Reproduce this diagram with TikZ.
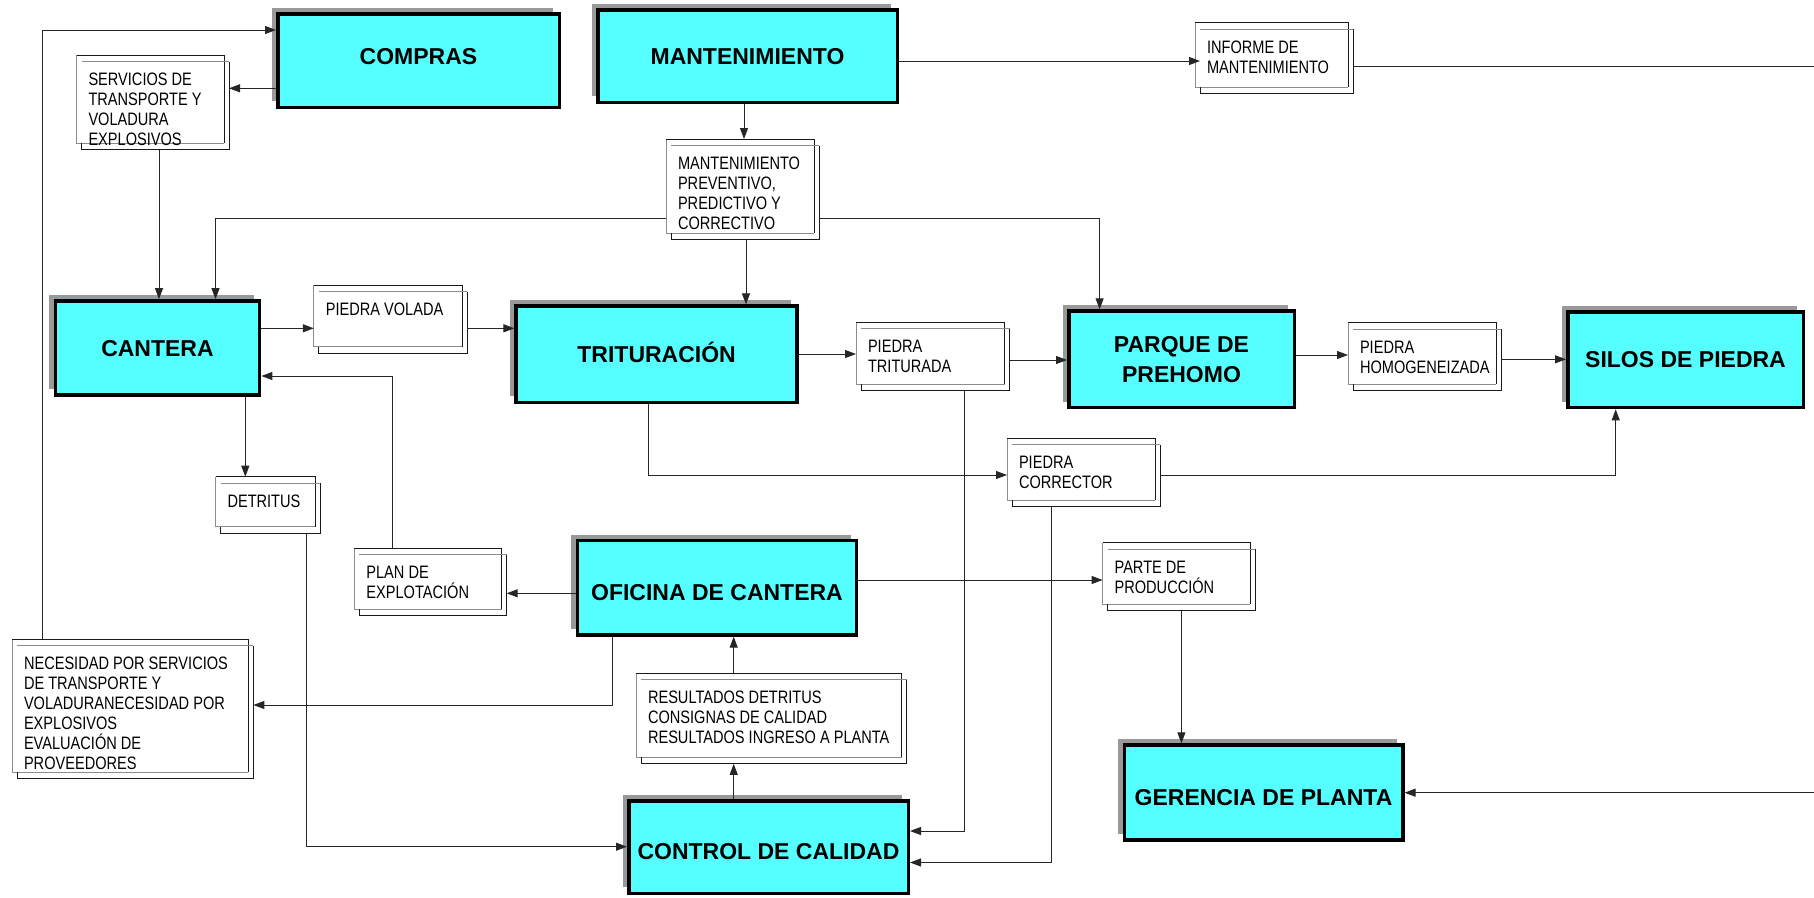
\documentclass[tikz,border=0pt]{standalone}
\usepackage{fontspec}
\setmainfont{Liberation Sans}
\newfontfamily\narrowfont[FakeStretch=0.81]{Liberation Sans}
\usetikzlibrary{arrows.meta,shadows}

\definecolor{boxcyan}{RGB}{85,255,255}
\definecolor{shadowgray}{RGB}{153,153,153}

\tikzset{
  bigbox/.style={rectangle, draw=black, line width=3.5pt, fill=boxcyan,
    inner sep=0pt, outer sep=1.75pt, align=center,
    drop shadow={shadow xshift=-6pt, shadow yshift=6pt, opacity=1, fill=shadowgray},
    font=\fontsize{23}{29.7}\selectfont\bfseries},
  onetext/.style={text height=16.5pt, text depth=0pt},
  lowtext/.style={text height=25.5pt, text depth=0pt},
  boxback/.style={rectangle, draw=none, inner sep=0pt, outer sep=0pt},
  boxtext/.style={anchor=north west, inner sep=0pt, outer sep=0pt, align=left,
    font=\narrowfont\fontsize{18}{20}\selectfont},
  edgelight/.style={line width=0.8pt, black!45},
  edgedark/.style={line width=1pt, black!90},
  conn/.style={line width=1pt, black!85},
  arr/.style={conn, -{Triangle[length=11pt,width=8pt]}}
}

% data box: back frame, offset front frame and top-aligned text
% #1 name, #2 left, #3 top, #4 width, #5 height, #6 text
\newcommand\mkbox[6]{%
  \node[boxback, minimum width=#4pt, minimum height=#5pt, anchor=north west] (#1) at (#2,#3) {};
  \node[boxback, minimum width=#4pt, minimum height=#5pt, anchor=north west] (#1f) at (#2+5,#3+6.5) {};
  \draw[edgelight] (#1.north west) |- (#1.south east);
  \draw[edgedark] (#1.north west) -| (#1.south east);
  \draw[edgelight] (#1f.north west) -- (#1f.north east);
  \draw[edgedark] (#1f.north east) |- (#1f.south west) -- (#1f.south west |- #1.south);
  \node[boxtext] (#1t) at (#2+12,#3+18) {#6};
}

\begin{document}
\begin{tikzpicture}[x=1pt,y=-1pt]
\path[use as bounding box, fill=white] (0,0) rectangle (1814,897);

% process blocks
\node[bigbox, onetext, text depth=8pt, minimum width=281.5pt, minimum height=93.5pt] (compras) at (418.5,60.5) {COMPRAS};
\node[bigbox, onetext, minimum width=299.5pt, minimum height=92.5pt] (mant) at (747.5,56) {MANTENIMIENTO};
\node[bigbox, onetext, minimum width=204.3pt, minimum height=94.2pt] (cantera) at (157.5,348) {CANTERA};
\node[bigbox, onetext, minimum width=280.8pt, minimum height=96.2pt] (trit) at (656.6,354.2) {TRITURACIÓN};
\node[bigbox, minimum width=225.5pt, minimum height=96.5pt] (parque) at (1181.5,359.3) {PARQUE DE\\PREHOMO};
\node[bigbox, onetext, minimum width=235.5pt, minimum height=95.8pt] (silos) at (1685.5,359.7) {SILOS DE PIEDRA};
\node[bigbox, lowtext, minimum width=279.4pt, minimum height=94.2pt] (ofi) at (717,587.8) {OFICINA DE CANTERA};
\node[bigbox, lowtext, minimum width=279.5pt, minimum height=92.2pt] (control) at (768.5,847.2) {CONTROL DE CALIDAD};
\node[bigbox, lowtext, minimum width=278.5pt, minimum height=94.9pt] (ger) at (1263.5,792.5) {GERENCIA DE PLANTA};

% flows between blocks
\mkbox{serv}{76.5}{55}{147.5}{88}{SERVICIOS DE\\TRANSPORTE Y\\VOLADURA\\EXPLOSIVOS}
\mkbox{info}{1195}{22.7}{153}{64.6}{INFORME DE\\MANTENIMIENTO}
\mkbox{mprev}{666}{139}{148}{94}{MANTENIMIENTO\\PREVENTIVO,\\PREDICTIVO Y\\CORRECTIVO}
\mkbox{volada}{313.8}{285.3}{148.2}{61.4}{PIEDRA VOLADA}
\mkbox{tritu}{856}{322.3}{148.5}{62}{PIEDRA\\TRITURADA}
\mkbox{homog}{1348}{322.7}{148.4}{61.3}{PIEDRA\\HOMOGENEIZADA}
\mkbox{detr}{215.5}{476.7}{100.2}{50}{DETRITUS}
\mkbox{corr}{1007}{438.3}{148}{61.7}{PIEDRA\\CORRECTOR}
\mkbox{plan}{354.4}{548.3}{147.3}{61}{PLAN DE\\EXPLOTACIÓN}
\mkbox{parte}{1102.6}{542.7}{147.7}{61.3}{PARTE DE\\PRODUCCIÓN}
\mkbox{nec}{12}{639}{236.4}{133.3}{NECESIDAD POR SERVICIOS\\DE TRANSPORTE Y\\VOLADURANECESIDAD POR\\EXPLOSIVOS\\EVALUACIÓN DE\\PROVEEDORES}
\mkbox{res}{636}{673.3}{265.5}{84}{RESULTADOS DETRITUS\\CONSIGNAS DE CALIDAD\\RESULTADOS INGRESO A PLANTA}

\coordinate (offedge) at (1840,66.7);

% connectors
\draw[arr] (nec.north -| 42.4,0) |- (compras.west |- 0,30);
\draw[arr] (compras.west |- 0,88.3) -- (servf.east |- 0,88.3);
\draw[arr] (servf.south -| 159,0) -- (cantera.north -| 159,0);
\draw[arr] (mant.south -| 744,0) -- (mprev.north -| 744,0);
\draw[arr] (mant.east |- 0,61) -- (infof.west |- 0,61);
\draw[arr] (infof.east |- offedge) -- (offedge) |- (ger.east |- 0,792.7);
\draw[arr] (mprev.west |- 0,218) -| (cantera.north -| 215.5,0);
\draw[arr] (mprevf.east |- 0,218) -| (parque.north -| 1099.6,0);
\draw[arr] (mprevf.south -| 746,0) -- (trit.north -| 746,0);
\draw[arr] (cantera.east |- 0,328.3) -- (volada.west |- 0,328.3);
\draw[arr] (voladaf.east |- 0,328.3) -- (trit.west |- 0,328.3);
\draw[arr] (trit.east |- 0,354) -- (tritu.west |- 0,354);
\draw[arr] (trituf.east |- 0,360) -- (parque.west |- 0,360);
\draw[arr] (parque.east |- 0,355) -- (homog.west |- 0,355);
\draw[arr] (homogf.east |- 0,359.3) -- (silos.west |- 0,359.3);
\draw[arr] (plan.north -| 392.4,0) |- (cantera.east |- 0,376);
\draw[arr] (cantera.south -| 245.3,0) -- (detr.north -| 245.3,0);
\draw[arr] (detrf.south -| 306.4,0) |- (control.west |- 0,846.7);
\draw[arr] (trit.south -| 648,0) |- (corr.west |- 0,475);
\draw[arr] (corrf.east |- 0,475) -| (silos.south -| 1615.7,0);
\draw[arr] (trituf.south -| 964,0) |- (control.east |- 0,831);
\draw[arr] (corrf.south -| 1051,0) |- (control.east |- 0,862.5);
\draw[arr] (ofi.west |- 0,593.3) -- (planf.east |- 0,593.3);
\draw[arr] (ofi.east |- 0,580) -- (parte.west |- 0,580);
\draw[arr] (partef.south -| 1181.4,0) -- (ger.north -| 1181.4,0);
\draw[arr] (ofi.south -| 612,0) |- (necf.east |- 0,705);
\draw[arr] (res.north -| 733.7,0) -- (ofi.south -| 733.7,0);
\draw[arr] (control.north -| 733.7,0) -- (resf.south -| 733.7,0);
\end{tikzpicture}
\end{document}
